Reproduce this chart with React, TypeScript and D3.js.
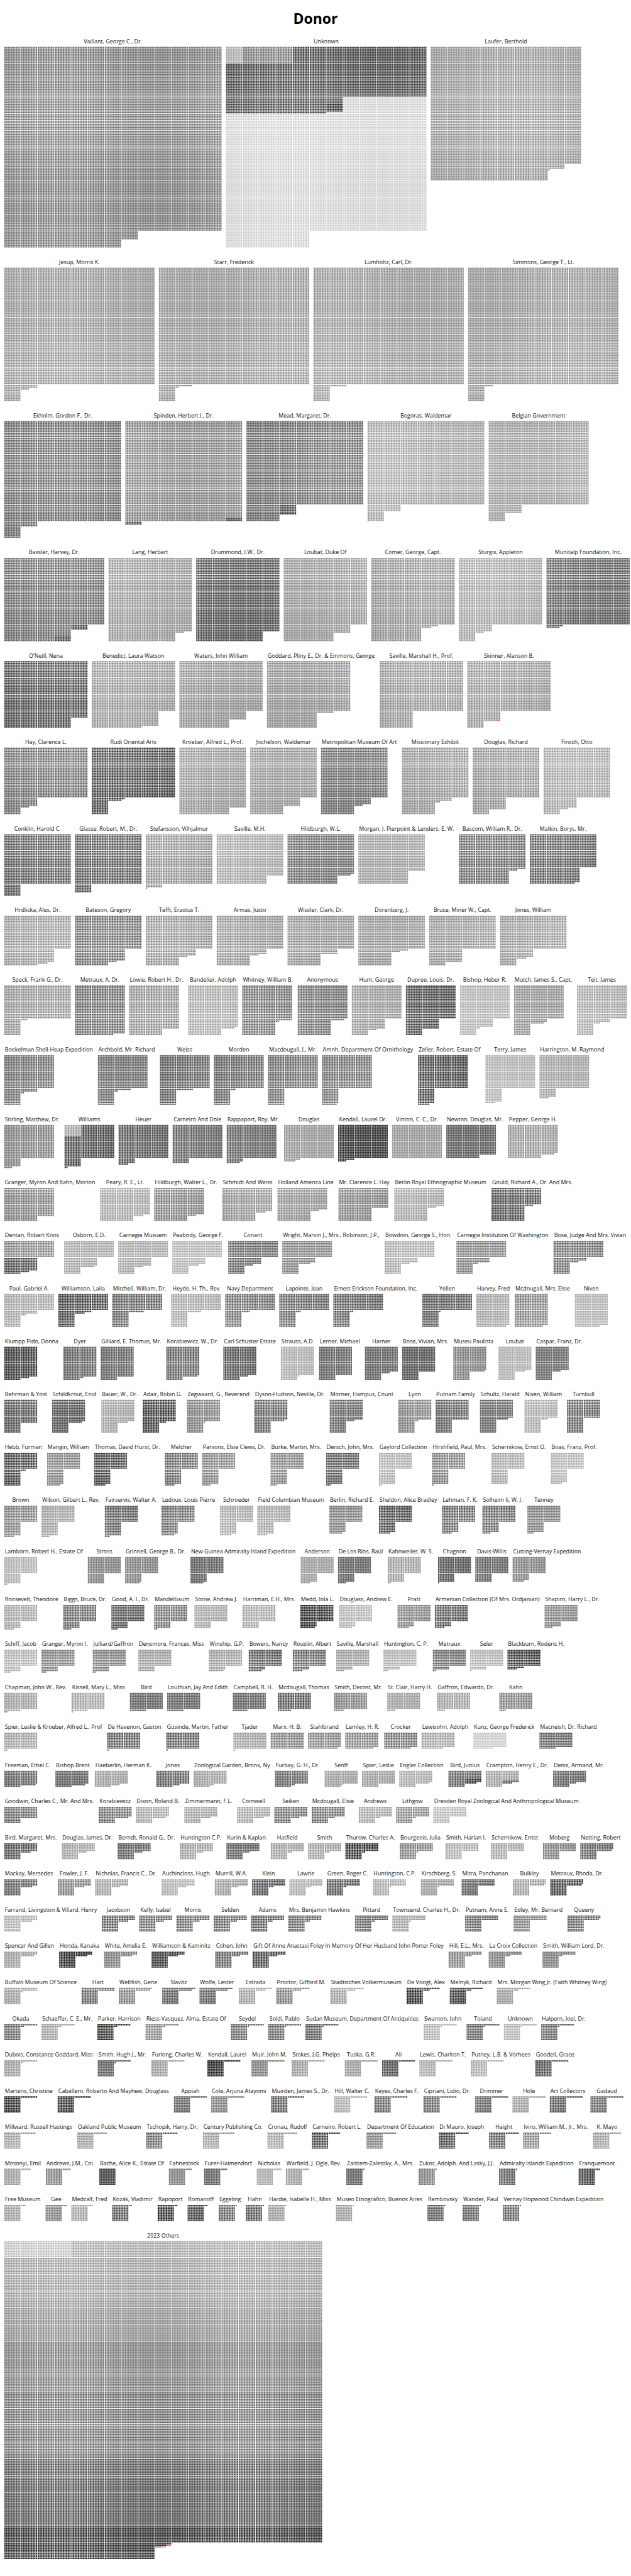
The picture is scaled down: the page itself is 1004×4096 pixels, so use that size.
import React, { useMemo } from "react";
import * as d3 from "d3";

// ---------------- DATA ----------------
const chartTitle = "Donor";

const donorNames: string[] = [
  "Vaillant, George C., Dr.", "Unknown", "Laufer, Berthold",
  "Jesup, Morris K.", "Starr, Frederick", "Lumholtz, Carl, Dr.", "Simmons, George T., Lt.",
  "Ekholm, Gordon F., Dr.", "Spinden, Herbert J., Dr.", "Mead, Margaret, Dr.", "Bogoras, Waldemar", "Belgian Government",
  "Bassler, Harvey, Dr.", "Lang, Herbert", "Drummond, I.W., Dr.", "Loubat, Duke Of", "Comer, George, Capt.", "Sturgis, Appleton", "Munitalp Foundation, Inc.",
  "O'Neill, Nena", "Benedict, Laura Watson", "Waters, John William", "Goddard, Pliny E., Dr. & Emmons, George", "Saville, Marshall H., Prof.", "Skinner, Alanson B.",
  "Hay, Clarence L.", "Rudi Oriental Arts", "Kroeber, Alfred L., Prof.", "Jochelson, Waldemar", "Metropolitan Museum Of Art", "Missionary Exhibit", "Douglas, Richard", "Finsch, Otto",
  "Conklin, Harold C.", "Glasse, Robert, M., Dr.", "Stefansson, Vilhjalmur", "Saville, M.H.", "Hildburgh, W.L.", "Morgan, J. Pierpoint & Lenders, E. W.", "Bascom, William R., Dr.", "Malkin, Borys, Mr.",
  "Hrdlicka, Ales, Dr.", "Bateson, Gregory", "Tefft, Erastus T.", "Armas, Justo", "Wissler, Clark, Dr.", "Dorenberg, J.", "Bruce, Miner W., Capt.", "Jones, William",
  "Speck, Frank G., Dr.", "Metraux, A. Dr.", "Lowie, Robert H., Dr.", "Bandelier, Adolph", "Whitney, William B.", "Anonymous", "Hunt, George", "Dupree, Louis, Dr.", "Bishop, Heber R.", "Mutch, James S., Capt.", "Teit, James",
  "Boekelman Shell-Heap Expedition", "Archbold, Mr. Richard", "Weiss", "Morden", "Macdougall, J., Mr.", "Amnh, Department Of Ornithology", "Zeller, Robert, Estate Of", "Terry, James", "Harrington, M. Raymond",
  "Stirling, Matthew, Dr.", "Williams", "Heuer", "Carneiro And Dole", "Rappaport, Roy, Mr.", "Douglas", "Kendall, Laurel Dr.", "Vinton, C. C., Dr.", "Newton, Douglas, Mr.", "Pepper, George H.",
  "Granger, Myron And Kahn, Morton", "Peary, R. E., Lt.", "Hildburgh, Walter L., Dr.", "Schmidt And Weiss", "Holland America Line", "Mr. Clarence L. Hay", "Berlin Royal Ethnographic Museum", "Gould, Richard A., Dr. And Mrs.",
  "Dentan, Robert Knox", "Osborn, E.D.", "Carnegie Musuem", "Peabody, George F.", "Conant", "Wright, Marvin J., Mrs., Robinson, J.P.,", "Bowdoin, George S., Hon.", "Carnegie Institution Of Washington", "Bose, Judge And Mrs. Vivian",
  "Paul, Gabriel A.", "Williamson, Laila", "Mitchell, William, Dr.", "Heyde, H. Th., Rev", "Navy Department", "Lapointe, Jean", "Ernest Erickson Foundation, Inc.", "Yellen", "Harvey, Fred", "Mcdougall, Mrs. Elsie", "Niven",
  "Klumpp Pido, Donna", "Dyer", "Gilliard, E. Thomas, Mr.", "Korabiewicz, W., Dr.", "Carl Schuster Estate", "Strauss, A.D.", "Lerner, Michael", "Harner", "Bose, Vivian, Mrs.", "Museu Paulista", "Loubat", "Caspar, Franz, Dr.",
  "Behrman & Yost", "Schildkrout, Enid", "Bauer, W., Dr.", "Adair, Robin G.", "Zegwaard, G., Reverend", "Dyson-Hudson, Neville, Dr.", "Morner, Hampus, Count", "Lyon", "Putnam Family", "Schultz, Harald", "Niven, William", "Turnbull",
  "Hebb, Furman", "Mangin, William", "Thomas, David Hurst, Dr.", "Melcher", "Parsons, Elsie Clews, Dr.", "Burke, Martin, Mrs.", "Dersch, John, Mrs.", "Gaylord Collection", "Hirshfield, Paul, Mrs.", "Schernikow, Ernst O.", "Boas, Franz, Prof.",
  "Brown", "Wilson, Gilbert L., Rev.", "Fairservis, Walter A.", "Ledoux, Louis Pierre", "Schroeder", "Field Columbian Museum", "Berlin, Richard E.", "Sheldon, Alice Bradley", "Lehman, F. K.", "Solheim Ii, W. J.", "Tenney",
  "Lamborn, Robert H., Estate Of", "Stross", "Grinnell, George B., Dr.", "New Guinea Admiralty Island Expedition", "Anderson", "De Los Ríos, Raúl", "Kahnweiler, W. S.", "Chagnon", "Davis-Willis", "Cutting-Vernay Expedition",
  "Roosevelt, Theodore", "Biggs, Bruce, Dr.", "Good, A. I., Dr.", "Mandelbaum", "Stone, Andrew J.", "Harriman, E.H., Mrs.", "Medd, Iola L.", "Douglass, Andrew E.", "Pratt", "Armenian Collection (Of Mrs. Ordjanian)", "Shapiro, Harry L., Dr.",
  "Schiff, Jacob", "Granger, Myron I.", "Julliard/Gaffron", "Densmore, Frances, Miss", "Winship, G.P.", "Bowers, Nancy", "Rouslin, Albert", "Saville, Marshall", "Huntington, C. P.", "Metraux", "Seler", "Blackburn, Roderic H.",
  "Chapman, John W., Rev.", "Kissell, Mary L., Miss", "Bird", "Louthian, Jay And Edith", "Campbell, R. H.", "Mcdougall, Thomas", "Smith, Decost, Mr.", "St. Clair, Harry H.", "Gaffron, Edwardo, Dr.", "Kahn",
  "Spier, Leslie & Kroeber, Alfred L., Prof", "De Havenon, Gaston", "Gusinde, Martin, Father", "Tjader", "Marx, H. B.", "Stahlbrand", "Lemley, H. R.", "Crocker", "Lewisohn, Adolph", "Kunz, George Frederick", "Macneish, Dr. Richard",
  "Freeman, Ethel C.", "Bishop Brent", "Haeberlin, Herman K.", "Jones", "Zoological Garden, Bronx, Ny", "Furbay, G. H., Dr.", "Senff", "Spier, Leslie", "Engler Collection", "Bird, Junius", "Crampton, Henry E., Dr.", "Denis, Armand, Mr.",
  "Goodwin, Charles C., Mr. And Mrs.", "Korabiewicz", "Dixon, Roland B.", "Zimmermann, F.L.", "Cornwell", "Seiken", "Mcdougall, Elsie", "Andrews", "Lithgow", "Dresden Royal Zoological And Anthropological Museum",
  "Bird, Margaret, Mrs.", "Douglas, James, Dr.", "Berndt, Ronald G., Dr.", "Huntington C.P.", "Kurin & Kaplan", "Hatfield", "Smith", "Thurow, Charles A.", "Bourgeois, Julia", "Smith, Harlan I.", "Schernikow, Ernst", "Moberg", "Netting, Robert",
  "Mackay, Mersedes", "Fowler, J. F.", "Nicholas, Francis C., Dr.", "Auchincloss, Hugh", "Murrill, W.A.", "Klein", "Lawrie", "Green, Roger C.", "Huntington, C.P.", "Kirschberg, S.", "Mitra, Panchanan", "Bulkley", "Metraux, Rhoda, Dr.",
  "Farrand, Livingston & Villard, Henry", "Jacobson", "Kelly, Isabel", "Morris", "Selden", "Adams", "Mrs. Benjamin Hawkins", "Pittard", "Townsend, Charles H., Dr.", "Putnam, Anne E.", "Edley, Mr. Bernard", "Queeny",
  "Spencer And Gillen", "Honda, Kanaka", "White, Amelia E.", "Williamson & Kaminitz", "Cohen, John", "Gift Of Anne Anastasi Foley In Memory Of Her Husband John Porter Foley", "Hill, E.L., Mrs.", "La Croix Collection", "Smith, William Lord, Dr.",
  "Buffalo Museum Of Science", "Hart", "Weltfish, Gene", "Slavitz", "Wolfe, Lester", "Estrada", "Proctor, Gifford M.", "Stadtisches Volkermuseum", "De Voogt, Alex", "Melnyk, Richard", "Mrs. Morgan Wing Jr. (Faith Whitney Wing)",
  "Okada", "Schaeffer, C. E., Mr.", "Parker, Harrison", "Riess-Vasquez, Alma, Estate Of", "Seydel", "Soldi, Pablo", "Sudan Museum, Department Of Antiquities", "Swanton, John", "Toland", "Unknown", "Halpern, Joel, Dr.",
  "Dubois, Constance Goddard, Miss", "Smith, Hugh J., Mr.", "Furlong, Charles W.", "Kendall, Laurel", "Muir, John M.", "Stokes, J.G. Phelps", "Tuska, G.R.", "Ali", "Lewis, Charlton T.", "Putney, L.B. & Vorhees", "Goodell, Grace",
  "Martens, Christine", "Caballero, Roberto And Mayhew, Douglass", "Appiah", "Cole, Arjuna Atayomi", "Muirden, James S., Dr.", "Hill, Walter C.", "Keyes, Charles F.", "Cipriani, Lidio, Dr.", "Drimmer", "Hole", "Art Collectors", "Gadaud",
  "Millward, Russell Hastings", "Oakland Public Museum", "Tschopik, Harry, Dr.", "Century Publishing Co.", "Cronau, Rudolf", "Carneiro, Robert L.", "Department Of Education", "Di Mauro, Joseph", "Haight", "Ivins, William M., Jr., Mrs.", "K. Mayo",
  "Mosonyi, Emil", "Andrews, J.M., Col.", "Bache, Alice K., Estate Of", "Fahnestock", "Furer-Haimendorf", "Nicholas", "Warfield, J. Ogle, Rev.", "Zalstem-Zalessky, A., Mrs.", "Zukor, Adolph. And Lasky, J.J.", "Admiralty Islands Expedition", "Franquemont",
  "Free Museum", "Gee", "Medcalf, Fred", "Kozák, Vladimir", "Rapoport", "Romanoff", "Eggeling", "Hahn", "Hardie, Isabelle H., Miss", "Museo Etnográfico, Buenos Aires", "Rembovsky", "Wander, Paul", "Vernay Hopwood Chindwin Expedition",
  "2923 Others",
];

const donorCounts: number[] = [
  15050, 13700, 7031,
  6425, 6412, 6410, 6405,
  4330, 4220, 3760, 3640, 3150,
  2830, 2445, 2440, 2350, 2316, 2145, 2018,
  1940, 1890, 1850, 1810, 1700, 1660,
  1655, 1618, 1560, 1450, 1445, 1423, 1370, 1365,
  1270, 1250, 1221, 1150, 1148, 1120, 1115, 1097,
  1086, 1075, 1045, 1035, 1030, 1015, 980, 956,
  904, 893, 860, 858, 812, 808, 765, 760, 752, 728, 724,
  722, 712, 710, 703, 700, 699, 697, 686, 656,
  655, 652, 636, 630, 628, 617, 615, 600, 580, 578,
  570, 566, 565, 546, 535, 520, 515, 505,
  485, 458, 455, 446, 445, 437, 435, 433, 425,
  423, 416, 409, 408, 405, 403, 402, 401, 398, 397, 395,
  385, 382, 380, 379, 375, 371, 370, 355, 350, 349, 346, 345,
  340, 338, 336, 334, 331, 328, 325, 322, 320, 317, 314, 310,
  303, 298, 297, 296, 295, 294, 293, 292, 291, 290, 287,
  286, 285, 283, 278, 277, 276, 268, 267, 266, 265, 264,
  262, 260, 259, 258, 256, 255, 252, 251, 250, 247,
  246, 245, 244, 242, 240, 240, 239, 238, 237, 236, 235,
  234, 233, 232, 230, 229, 228, 226, 225, 223, 222, 221, 216,
  212, 211, 210, 210, 209, 208, 206, 205, 205, 204,
  202, 201, 201, 201, 200, 198, 197, 196, 193, 192, 190,
  189, 188, 185, 184, 182, 182, 181, 180, 178, 177, 176, 174,
  170, 168, 168, 166, 166, 165, 164, 163, 162, 160,
  156, 155, 155, 154, 154, 153, 153, 152, 151, 150, 150, 150, 149,
  147, 146, 145, 145, 144, 143, 143, 142, 141, 141, 140, 139, 139,
  137, 136, 135, 134, 134, 133, 133, 132, 131, 130, 130, 129,
  128, 127, 127, 126, 125, 125, 124, 123, 122,
  121, 120, 119, 118, 117, 116, 115, 115, 114, 113, 113,
  112, 112, 112, 112, 111, 111, 111, 111, 111, 111, 111,
  111, 111, 110, 110, 110, 110, 110, 110, 110, 110, 110,
  110, 110, 110, 110, 110, 110, 110, 110, 110, 110, 110, 110,
  109, 108, 109, 109, 108, 107, 108, 108, 108, 107, 107,
  106, 105, 100, 104, 104, 105, 104, 101, 101, 101, 103,
  103, 103, 103, 102, 102, 102, 101, 101, 101, 101, 101, 101, 101,
  35127,
];

// tone: 0 = lightest grey, 1 = darkest; a string refers to a mixed panel below
const donorTones: (number | string)[] = [
  0.52, "unknown", 0.37,
  0.37, 0.37, 0.37, 0.37,
  0.62, "spinden", "mead", 0.3, 0.33,
  "bassler", 0.37, 0.75, 0.37, 0.4, 0.3, 0.7,
  0.78, 0.37, 0.4, 0.4, 0.37, "skinner",
  0.6, 0.82, 0.37, 0.37, 0.6, 0.37, 0.4, 0.3,
  0.72, 0.74, 0.4, 0.3, 0.6, 0.33, 0.65, 0.72,
  0.37, 0.62, 0.4, 0.4, 0.4, 0.4, 0.37, "jonesw",
  0.4, 0.65, 0.42, 0.3, 0.6, 0.6, 0.37, 0.8, 0.22, 0.4, 0.3,
  0.6, 0.6, 0.68, 0.66, 0.6, 0.58, 0.82, 0.22, 0.3,
  0.5, "williams", 0.74, 0.66, 0.66, 0.37, 0.93, 0.37, 0.7, 0.37,
  0.5, 0.3, 0.5, 0.4, 0.4, 0.5, 0.3, 0.74,
  "dentan", 0.3, 0.3, 0.22, 0.66, 0.5, 0.3, 0.5, 0.66,
  0.3, 0.85, 0.68, 0.3, 0.6, 0.66, 0.7, 0.7, 0.3, 0.5, 0.22,
  0.88, 0.66, 0.66, 0.66, 0.74, 0.25, 0.66, 0.66, 0.74, 0.5, 0.22, 0.62,
  0.74, 0.74, 0.3, 0.88, 0.5, 0.66, 0.62, 0.5, 0.66, 0.62, 0.25, 0.66,
  0.88, 0.5, 0.85, 0.66, 0.5, 0.5, 0.72, 0.25, 0.55, 0.3, 0.22,
  0.5, 0.33, 0.7, 0.6, 0.3, 0.33, 0.5, 0.8, 0.66, 0.66, 0.5,
  0.22, 0.5, 0.5, 0.68, 0.33, 0.66, 0.33, 0.74, 0.66, 0.5,
  0.3, 0.66, 0.74, 0.6, 0.3, 0.3, 0.96, 0.22, 0.5, 0.74, 0.5,
  0.22, 0.5, 0.5, 0.33, 0.33, 0.74, 0.66, 0.33, 0.22, 0.6, 0.22, 0.88,
  0.33, 0.3, 0.66, 0.66, 0.66, 0.74, 0.5, "stclair", 0.33, 0.5,
  0.33, 0.74, 0.74, 0.33, 0.5, 0.5, 0.5, 0.6, 0.33, 0.08, 0.66,
  0.66, 0.66, 0.33, 0.66, 0.33, 0.62, 0.33, 0.33, 0.25, "birdj", "crampton", 0.66,
  0.66, 0.66, 0.33, 0.33, 0.33, 0.66, 0.66, 0.33, 0.5, 0.22,
  0.74, 0.3, 0.68, 0.33, 0.66, 0.33, 0.33, 0.96, 0.5, 0.25, 0.3, 0.5, 0.66,
  0.66, 0.5, 0.33, 0.22, 0.33, 0.74, 0.25, 0.74, 0.25, 0.33, 0.66, 0.33, 0.85,
  0.25, 0.74, 0.66, 0.66, 0.68, 0.74, 0.66, 0.66, 0.33, 0.66, 0.5, 0.66,
  0.33, 0.96, "whitea", 0.85, 0.66, 0.82, 0.5, 0.5, 0.5,
  0.33, 0.66, 0.5, 0.66, 0.66, 0.33, 0.5, 0.33, 0.96, 0.85, 0.33,
  0.66, 0.33, 0.96, 0.5, 0.66, 0.66, 0.74, 0.25, 0.66, 0.22, 0.66,
  0.33, 0.66, 0.33, 0.96, 0.5, 0.33, 0.33, 0.74, 0.25, 0.25, 0.74,
  0.96, 0.96, 0.66, 0.5, 0.74, 0.25, 0.66, 0.66, 0.66, 0.33, 0.74, 0.66,
  0.33, 0.33, 0.66, 0.33, 0.33, 0.85, 0.5, 0.85, 0.74, 0.5, 0.33,
  0.33, 0.5, 0.85, 0.5, 0.66, 0.25, 0.33, 0.66, 0.5, 0.66, 0.85,
  0.33, 0.5, 0.33, 0.74, 0.96, 0.82, 0.66, 0.74, 0.33, 0.33, 0.66, 0.66, 0.66,
  "others",
];

// how many facets the reference places on each wrapped line
const facetsPerLine: number[] = [
  3, 4, 5, 7, 6, 8, 8, 8, 11, 9, 10, 8, 9, 11, 12, 12, 11, 11, 10,
  11, 12, 10, 11, 12, 10, 13, 13, 12, 9, 11, 11, 11, 12, 11, 11, 13, 1,
];

// mixed panels: [tone, number of objects] in fill order (-1 = red, -2 = pink)
const unknownMix: [number, number][] = [[0.25, 100], [0.5, 300], [0.8, 3840], [0.95, 50], [0.03, 9410]];
const spindenMix: [number, number][] = [[0.47, 4180], [0.8, 40]];
const meadMix: [number, number][] = [[0.62, 3700], [0.82, 60]];
const basslerMix: [number, number][] = [[0.62, 2770], [0.8, 60]];
const skinnerMix: [number, number][] = [[0.37, 1656], [-1, 4]];
const jonesWMix: [number, number][] = [[0.37, 955], [-1, 1]];
const williamsMix: [number, number][] = [[0.3, 70], [0.8, 582]];
const dentanMix: [number, number][] = [[0.5, 300], [0.82, 185]];
const stClairMix: [number, number][] = [[0.33, 204], [-1, 1]];
const birdJMix: [number, number][] = [[0.66, 150], [0.9, 27]];
const cramptonMix: [number, number][] = [[0.33, 160], [0.74, 16]];
const whiteAMix: [number, number][] = [[0.5, 126], [-1, 1]];
const othersMix: [number, number][] = [
  [0.14, 400], [0.28, 1500], [0.35, 5700], [0.4, 3800], [0.5, 5700],
  [0.6, 7600], [0.72, 7600], [0.92, 2817], [-1, 7], [-2, 3],
];

const mixes: Record<string, [number, number][]> = {
  unknown: unknownMix, spinden: spindenMix, mead: meadMix, bassler: basslerMix,
  skinner: skinnerMix, jonesw: jonesWMix, williams: williamsMix, dentan: dentanMix,
  stclair: stClairMix, birdj: birdJMix, crampton: cramptonMix, whitea: whiteAMix,
  others: othersMix,
};

// ---------------- LAYOUT (reference pixel units) ----------------
const REF_W = 1920;
const REF_H = 7830;
const CELL = 4;
const PITCH = 5;
const BLOCK = 10 * PITCH + 1;
const LEFT = 13;
const GAP_X = 13.5;
const LABEL_PAD = 3;
const TOP0 = 141;
const ROW_GAP = 61;
const LABEL_DY = 11;
const FONT = '"Open Sans", "Noto Sans", "DejaVu Sans", sans-serif';
const LABEL_WEIGHT = 400;
const REF_LABEL = "Gift Of Anne Anastasi Foley In Memory Of Her Husband John Porter Foley";
const REF_LABEL_W = 580;

const grey = d3.scaleLinear<string>().domain([0, 1]).range(["#d4d4d4", "#111111"]);
const colorOf = (t: number) => (t === -1 ? "#c76b6b" : t === -2 ? "#e3a6a6" : grey(t));

type Panel = {
  name: string; x: number; top: number; cellW: number;
  paths: { tone: number; d: string }[];
};

function computeLayout() {
  const ctx = document.createElement("canvas").getContext("2d") as CanvasRenderingContext2D;
  ctx.font = `${LABEL_WEIGHT} 100px ${FONT}`;
  const fontSize = (100 * REF_LABEL_W) / ctx.measureText(REF_LABEL).width;
  const textW = (s: string) => (ctx.measureText(s).width * fontSize) / 100;

  const lineOf: number[] = [];
  facetsPerLine.forEach((n, li) => { for (let j = 0; j < n; j++) lineOf.push(li); });

  const panels: Panel[] = [];
  let x = LEFT;
  let top = TOP0;
  let rowMax = 0;
  donorNames.forEach((name, i) => {
    const n = donorCounts[i];
    const tone = donorTones[i];
    const segs = typeof tone === "number" ? [[tone, n] as [number, number]] : mixes[tone];
    const nb = Math.ceil(n / 100);
    const cols = Math.ceil(Math.sqrt(nb));
    // occupied width: full when the first line of blocks is complete
    const lastItems = n - (nb - 1) * 100;
    const usedW = nb > cols || lastItems >= 10
      ? cols * BLOCK - 2
      : (cols - 1) * BLOCK + lastItems * PITCH - 1;
    const cellW = Math.max(usedW, textW(name) + LABEL_PAD);
    const lastRow = Math.floor((nb - 1) / cols);
    const inLast = nb - lastRow * cols;
    const rowsLast = inLast > 1 ? 10 : Math.ceil(lastItems / 10);
    const h = lastRow * BLOCK + (rowsLast - 1) * PITCH + CELL;
    if (i > 0 && lineOf[i] !== lineOf[i - 1]) {
      top += rowMax + ROW_GAP;
      x = LEFT;
      rowMax = 0;
    }
    const byTone = new Map<number, d3.Path>();
    let k = 0;
    for (const [t, cnt] of segs) {
      let p = byTone.get(t);
      if (!p) { p = d3.path(); byTone.set(t, p); }
      for (let j = 0; j < cnt; j++, k++) {
        const b = Math.floor(k / 100);
        const w = k % 100;
        const cx = (b % cols) * BLOCK + (w % 10) * PITCH;
        const cy = Math.floor(b / cols) * BLOCK + Math.floor(w / 10) * PITCH;
        p.rect(cx, cy, CELL, CELL);
      }
    }
    panels.push({
      name, x, top, cellW,
      paths: Array.from(byTone.entries()).map(([t, p]) => ({ tone: t, d: p.toString() })),
    });
    x += cellW + GAP_X;
    rowMax = Math.max(rowMax, h);
  });
  return { panels, fontSize };
}

export default function App() {
  const { panels, fontSize } = useMemo(() => computeLayout(), []);
  return (
    <svg
      width={1004}
      height={4096}
      viewBox={`0 0 ${REF_W} ${REF_H}`}
      style={{ position: "absolute", left: 0, top: 0, background: "#fff" }}
    >
      <text x={REF_W / 2} y={72} textAnchor="middle" fontFamily={FONT} fontWeight={700} fontSize={44} fill="#000">
        {chartTitle}
      </text>
      {panels.map((p, i) => (
        <g key={i}>
          <text
            x={p.x + p.cellW / 2}
            y={p.top - LABEL_DY}
            textAnchor="middle"
            fontFamily={FONT}
            fontWeight={LABEL_WEIGHT}
            fontSize={fontSize}
            fill="#111"
          >
            {p.name}
          </text>
          <g transform={`translate(${p.x},${p.top})`}>
            {p.paths.map((pp, j) => (
              <path key={j} d={pp.d} fill={colorOf(pp.tone)} />
            ))}
          </g>
        </g>
      ))}
    </svg>
  );
}
